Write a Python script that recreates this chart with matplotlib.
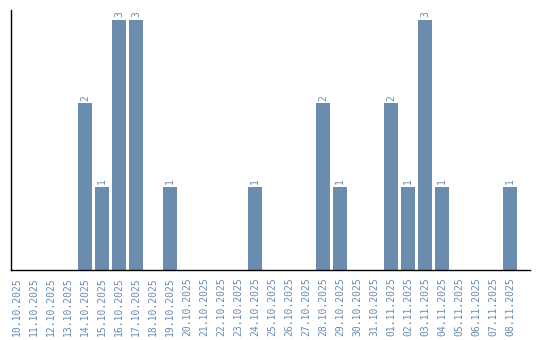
import matplotlib
matplotlib.use('Agg')
import matplotlib.pyplot as plt

# daily counts, 10.10.2025 - 08.11.2025
dates = ['10.10.2025', '11.10.2025', '12.10.2025', '13.10.2025', '14.10.2025',
         '15.10.2025', '16.10.2025', '17.10.2025', '18.10.2025', '19.10.2025',
         '20.10.2025', '21.10.2025', '22.10.2025', '23.10.2025', '24.10.2025',
         '25.10.2025', '26.10.2025', '27.10.2025', '28.10.2025', '29.10.2025',
         '30.10.2025', '31.10.2025', '01.11.2025', '02.11.2025', '03.11.2025',
         '04.11.2025', '05.11.2025', '06.11.2025', '07.11.2025', '08.11.2025']
counts = [0, 0, 0, 0, 2, 1, 3, 3, 0, 1,
          0, 0, 0, 0, 1, 0, 0, 0, 2, 1,
          0, 0, 2, 1, 3, 1, 0, 0, 0, 1]

BAR_COLOR = '#6a8caf'
LABEL_COLOR = '#6a8caf'

fig = plt.figure(figsize=(5.4, 3.4), dpi=100)
ax = fig.add_axes([0.0204, 0.2059, 0.9611, 0.7647])

x = list(range(len(dates)))
ax.bar(x, counts, width=0.82, color=BAR_COLOR)

for xi, c in zip(x, counts):
    if c > 0:
        ax.text(xi, c + 0.03, str(c), rotation=90, ha='center', va='bottom',
                fontsize=7, color=LABEL_COLOR, family='DejaVu Sans Mono')

ax.set_xlim(-0.35, 30.18)
ax.set_ylim(0, 3.12)
ax.set_xticks(x)
ax.set_xticklabels(dates, rotation=90, fontsize=7, color=LABEL_COLOR,
                   family='DejaVu Sans Mono')
ax.tick_params(axis='x', length=0, pad=5)
ax.set_yticks([])

for side in ['top', 'right']:
    ax.spines[side].set_visible(False)
for side in ['left', 'bottom']:
    ax.spines[side].set_color('black')
    ax.spines[side].set_linewidth(1)

fig.savefig('out.png', dpi=100)
